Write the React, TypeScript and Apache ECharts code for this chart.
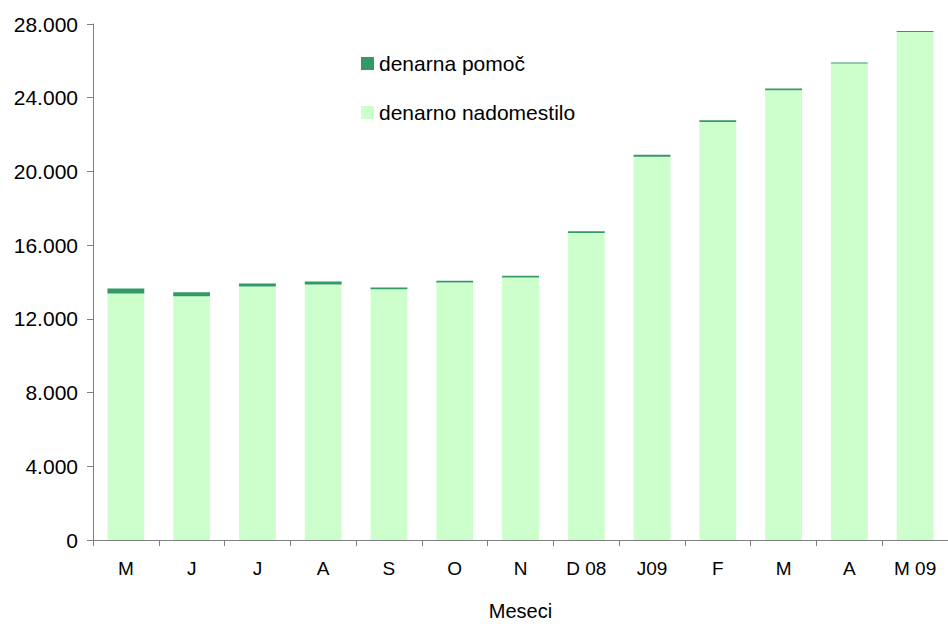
import React, { useEffect, useRef } from "react";
import * as echarts from "echarts";

const categories = ["M", "J", "J", "A", "S", "O", "N", "D 08", "J09", "F", "M", "A", "M 09"];
const nadomestilo = [13380, 13220, 13760, 13870, 13600, 13970, 14240, 16660, 20800, 22680, 24400, 25850, 27570];
const pomoc = [270, 220, 160, 160, 100, 100, 100, 100, 100, 100, 100, 60, 50];
const yTicks = [0, 4000, 8000, 12000, 16000, 20000, 24000, 28000];

const fmt = (v: number) => (v === 0 ? "0" : (v / 1000).toFixed(0) + ".000");

export default function App() {
  const ref = useRef<HTMLDivElement>(null);
  useEffect(() => {
    if (!ref.current) return;
    const chart = echarts.init(ref.current, null, { renderer: "svg" });
    const font = "'Liberation Sans', Arial, sans-serif";
    chart.setOption({
      animation: false,
      textStyle: { fontFamily: font },
      grid: { left: 93, top: 24, height: 521, width: 860 },
      legend: {
        orient: "vertical",
        left: 356,
        top: 48,
        itemWidth: 13,
        itemHeight: 13,
        itemGap: 28,
        icon: "rect",
        textStyle: { fontSize: 21, color: "#000", fontFamily: font },
        data: ["denarna pomoč", "denarno nadomestilo"],
      },
      xAxis: {
        type: "category",
        data: categories,
        name: "Meseci",
        nameLocation: "middle",
        nameGap: 61,
        nameTextStyle: { fontSize: 20, color: "#000", fontFamily: font },
        axisLine: { lineStyle: { color: "#808080", width: 1 } },
        axisTick: { show: true, length: 6, lineStyle: { color: "#808080" } },
        axisLabel: { fontSize: 19, color: "#000", margin: 19, interval: 0 },
      },
      yAxis: {
        type: "value",
        min: 0,
        max: 28000,
        interval: 4000,
        axisLine: { show: true, lineStyle: { color: "#808080", width: 1 } },
        axisTick: { show: true, length: 6, lineStyle: { color: "#808080" } },
        splitLine: { show: false },
        axisLabel: {
          fontSize: 21,
          color: "#000",
          margin: 15,
          formatter: (v: number) => (yTicks.includes(v) ? fmt(v) : ""),
        },
      },
      series: [
        {
          name: "denarno nadomestilo",
          type: "bar",
          stack: "a",
          data: nadomestilo,
          barCategoryGap: "44%",
          itemStyle: { color: "#CCFFCC" },
        },
        {
          name: "denarna pomoč",
          type: "bar",
          stack: "a",
          data: pomoc,
          itemStyle: { color: "#339966" },
        },
      ],
    });
    return () => chart.dispose();
  }, []);
  return <div ref={ref} style={{ width: 948, height: 626, position: "absolute", left: 0, top: 0 }} />;
}
